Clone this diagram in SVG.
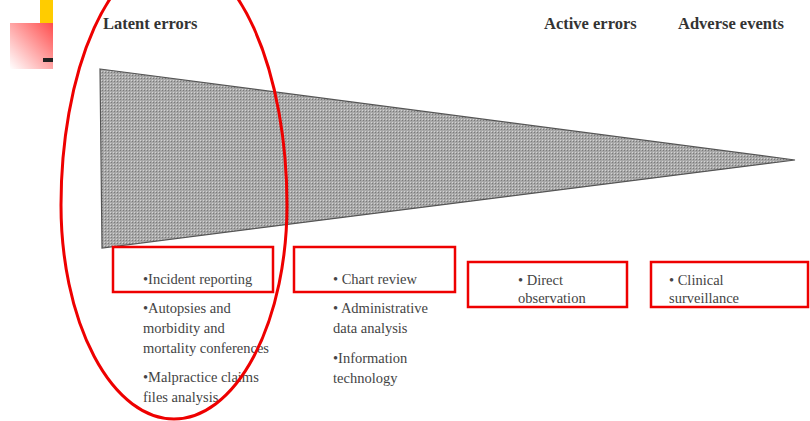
<svg xmlns="http://www.w3.org/2000/svg" width="810" height="421" viewBox="0 0 810 421">
<style>
.hdr{font-family:"Liberation Serif","Times New Roman",serif;font-size:16.5px;fill:#333;font-weight:bold}
.lbl{font-family:"Liberation Serif","Times New Roman",serif;font-size:14.5px;fill:#444}
.box{fill:none;stroke:#ee0000;stroke-width:2.5}
</style>
<defs>
<linearGradient id="pink" x1="1" y1="0" x2="0" y2="1">
<stop offset="0" stop-color="#ff4d4d"/>
<stop offset="1" stop-color="#ffffff"/>
</linearGradient>
<pattern id="hatch" width="3" height="3" patternUnits="userSpaceOnUse">
<rect width="3" height="3" fill="#a8a8a8"/>
<rect width="1" height="1" fill="#7a7a7a"/>
<rect x="2" y="2" width="1" height="1" fill="#d4d4d4"/>
</pattern>
</defs>
<rect width="810" height="421" fill="#fff"/>
<g id="decoration">
<rect x="40" y="0" width="13" height="23" fill="#ffcc00"/>
<rect x="10" y="23" width="43" height="46" fill="url(#pink)"/>
<rect x="43" y="58" width="10" height="4" fill="#222"/>
</g>
<g id="wedge">
<polygon points="100,69 795,160 102,248" fill="url(#hatch)" stroke="#555" stroke-width="1.2"/>
</g>
<g id="headers">
<text class="hdr" x="103" y="29">Latent errors</text>
<text class="hdr" x="544" y="29">Active errors</text>
<text class="hdr" x="678" y="29">Adverse events</text>
</g>
<g id="latent">
<rect class="box" x="113" y="247" width="160" height="45"/>
<text class="lbl" x="143" y="284">•Incident reporting</text>
<text class="lbl" x="143" y="313">•Autopsies and</text>
<text class="lbl" x="143" y="333">morbidity and</text>
<text class="lbl" x="143" y="353">mortality conferences</text>
<text class="lbl" x="143" y="382">•Malpractice claims</text>
<text class="lbl" x="143" y="402">files analysis</text>
</g>
<g id="chart">
<rect class="box" x="294" y="247" width="161" height="45"/>
<text class="lbl" x="333" y="284">• Chart review</text>
<text class="lbl" x="333" y="313">• Administrative</text>
<text class="lbl" x="333" y="333">data analysis</text>
<text class="lbl" x="333" y="363">•Information</text>
<text class="lbl" x="333" y="383">technology</text>
</g>
<g id="direct">
<rect class="box" x="468" y="262" width="159" height="45"/>
<text class="lbl" x="518" y="285">• Direct</text>
<text class="lbl" x="518" y="303">observation</text>
</g>
<g id="clinical">
<rect class="box" x="651" y="262" width="157" height="45"/>
<text class="lbl" x="669" y="285">• Clinical</text>
<text class="lbl" x="669" y="303">surveillance</text>
</g>
<g id="highlight">
<path d="M61,205 A113,250 0 0 1 287,205 A113,214 0 0 1 61,205 Z" fill="none" stroke="#ee0000" stroke-width="3"/>
</g>
</svg>
